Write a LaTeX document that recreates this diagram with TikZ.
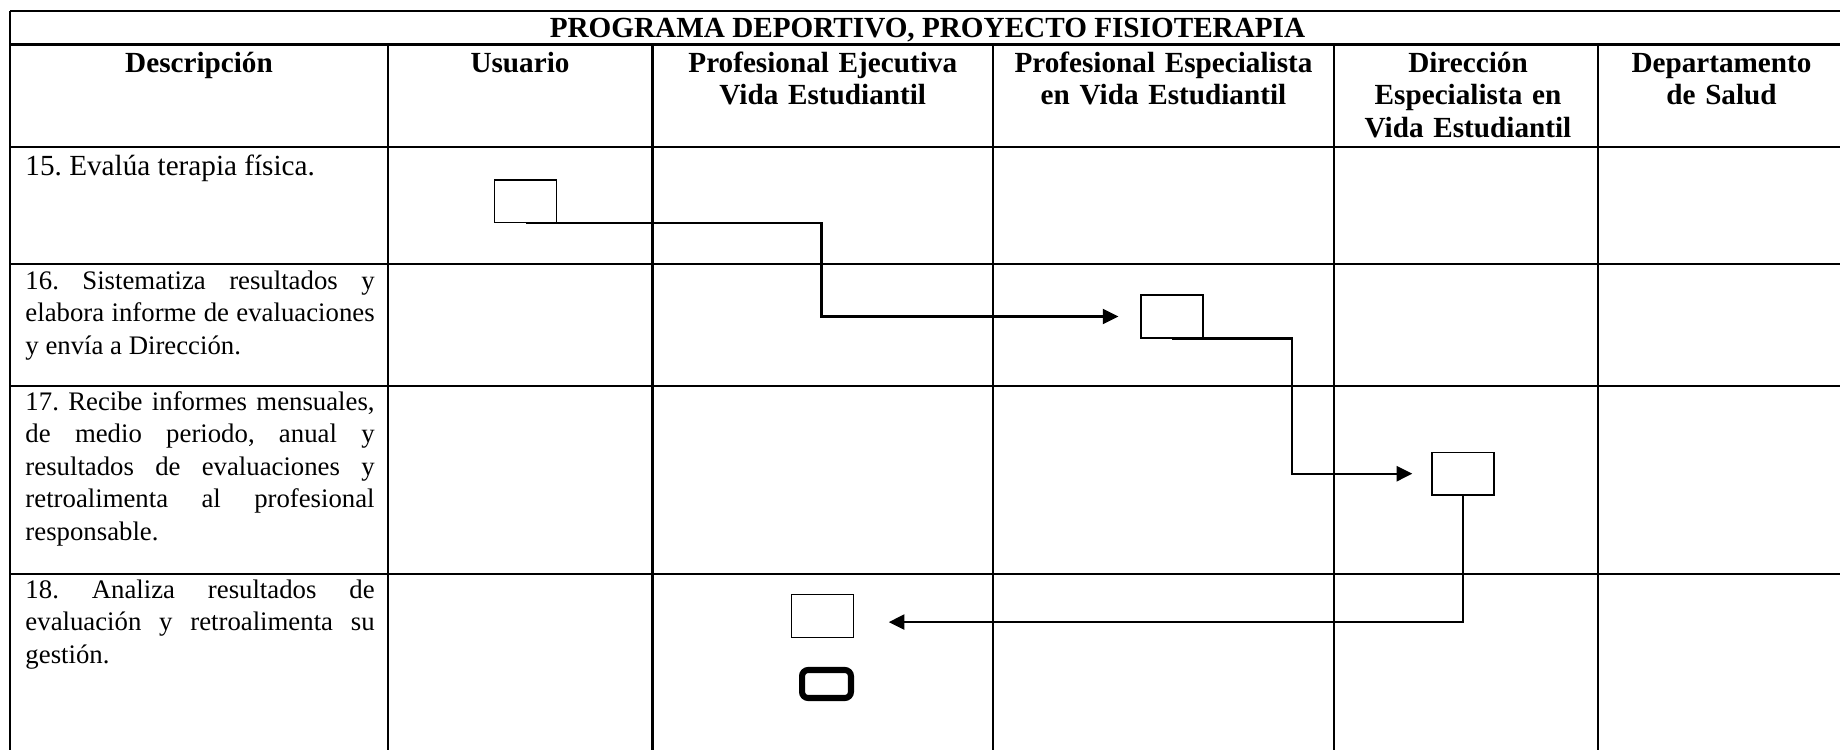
\documentclass[tikz,border=0pt]{standalone}
\usepackage{fontspec}
\setmainfont{Liberation Serif}
\usetikzlibrary{arrows.meta}
\frenchspacing

\begin{document}
\begin{tikzpicture}[x=0.411pt,y=0.411pt,
      linea/.style={line width=0.85pt},
      caja/.style={draw,line width=0.6pt,minimum width=25.5pt,minimum height=17.5pt,inner sep=0pt},
      cajafin/.style={draw,line width=2.5pt,rounded corners=2.5pt,minimum width=20.1pt,minimum height=11.5pt,inner sep=0pt},
      flecha/.style={line width=0.9pt,-{Triangle[length=6.4pt,width=6.2pt]}},
      titulo/.style={font=\fontsize{12}{13.4}\selectfont\bfseries,anchor=base,inner sep=0pt},
      encabezado/.style={font=\fontsize{12}{13.4}\selectfont\bfseries,text width=130pt,align=center,anchor=base,inner sep=0pt},
      texto/.style={font=\fontsize{11}{13.4}\selectfont,text width=143.5pt,align=justify,anchor=base west,inner sep=0pt}]
      \useasboundingbox (0,0) rectangle (1840,749);
      \draw[linea] (10,738.3) -- (1845,738.3);
      \foreach \y in {704.5,602.3,485,363.3,175} {
        \draw[linea] (10,\y) -- (1845,\y);
      }
      \draw[linea] (10,738.3) -- (10,-5);
      \draw[linea] (1845,738.3) -- (1845,-5);
      \foreach \x in {388,652.5,993,1334,1598} {
        \draw[linea] (\x,704.5) -- (\x,-5);
      }
      \node[titulo] (tit) at (927.5,712) {PROGRAMA DEPORTIVO, PROYECTO FISIOTERAPIA};
      \node[encabezado] (hdesc) at (199,677) {Descripción};
      \node[encabezado] (husu) at (520,677) {Usuario};
      \node[encabezado] (hpej) at (822.75,677) {Profesional Ejecutiva\\Vida Estudiantil};
      \node[encabezado] (hpes) at (1163.5,677) {Profesional Especialista\\en Vida Estudiantil};
      \node[encabezado] (hdir) at (1468,677) {Dirección\\Especialista en\\Vida Estudiantil};
      \node[encabezado] (hdep) at (1721.5,677) {Departamento\\de Salud};
      \node[texto,font=\fontsize{12}{13.4}\selectfont] (d15) at (25,574) {15. Evalúa terapia física.};
      \node[texto] (d16) at (25,460) {16. Sistematiza resultados y\linebreak elabora informe de evaluaciones\linebreak y envía a Dirección.};
      \node[texto] (d17) at (25,339) {17. Recibe informes mensuales,\linebreak de medio periodo, anual y\linebreak resultados de evaluaciones y\linebreak retroalimenta al profesional\linebreak responsable.};
      \node[texto] (d18) at (25,151) {18. Analiza resultados de\linebreak evaluación y retroalimenta su\linebreak gestión.};
      \node[caja] (s15) at (525.5,547.75) {};
      \node[caja] (s16) at (1172,432.5) {};
      \node[caja] (s17) at (1463,275.3) {};
      \node[caja] (s18) at (822.5,133) {};
      \node[cajafin] (fin) at (826.5,65) {};
      \coordinate (k1) at (821.5,0);
      \coordinate (k2) at (1292,0);
      \draw[flecha,shorten >=9pt] (s15.south) -| (k1 |- s16.west) -- (s16.west);
      \draw[flecha,shorten >=7.8pt] (s16.south) -| (k2 |- s17.west) -- (s17.west);
      \draw[flecha,shorten >=14.2pt] (s17.south) |- ([yshift=-2.5pt]s18.east);
    \end{tikzpicture}
\end{document}
